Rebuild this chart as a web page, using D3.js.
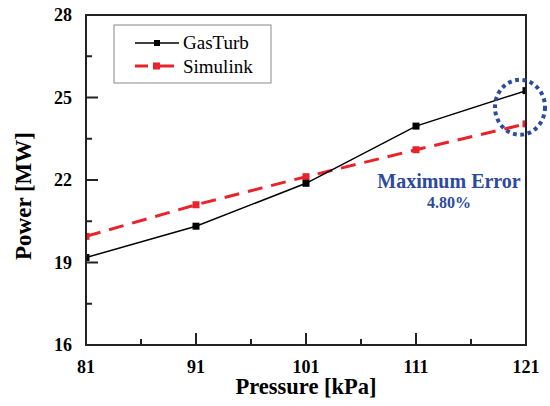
<!DOCTYPE html>
<html>
<head>
<meta charset="utf-8">
<script src="https://cdn.jsdelivr.net/npm/d3@7"></script>
<style>
  body { margin: 0; background: #fff; }
</style>
</head>
<body>
<div id="chart"></div>
<script>
var pressure = [81, 91, 101, 111, 121];
var gasTurb  = [19.18, 20.32, 21.88, 23.96, 25.25];
var simulink = [19.95, 21.10, 22.12, 23.10, 24.04];
var xTicks = [81, 91, 101, 111, 121];
var yTicks = [16, 19, 22, 25, 28];

var width = 550,
    height = 406,
    margin = {top: 15, right: 24, bottom: 61, left: 86};

var innerW = width - margin.left - margin.right,
    innerH = height - margin.top - margin.bottom;

var blue = "#2c4a9f",
    red = "#e8232b",
    serif = "Liberation Serif";

var svg = d3.select("#chart").append("svg")
    .attr("width", width)
    .attr("height", height);

var g = svg.append("g")
    .attr("transform", "translate(" + margin.left + "," + margin.top + ")");

var x = d3.scaleLinear().domain([81, 121]).range([0, innerW]);
var y = d3.scaleLinear().domain([16, 28]).range([innerH, 0]);

g.append("clipPath").attr("id", "plot-clip")
  .append("rect")
    .attr("width", innerW)
    .attr("height", innerH);

var plot = g.append("g").attr("clip-path", "url(#plot-clip)");

var line = d3.line()
    .x(function(d) { return x(d[0]); })
    .y(function(d) { return y(d[1]); });

var simData = pressure.map(function(p, i) { return [p, simulink[i]]; });
var gasData = pressure.map(function(p, i) { return [p, gasTurb[i]]; });

plot.append("path")
    .datum(simData)
    .attr("fill", "none")
    .attr("stroke", red)
    .attr("stroke-width", 3)
    .attr("stroke-dasharray", "15,9")
    .attr("d", line);

plot.selectAll(".sim-pt")
    .data(simData)
    .enter().append("rect")
    .attr("class", "sim-pt")
    .attr("x", function(d) { return x(d[0]) - 3.5; })
    .attr("y", function(d) { return y(d[1]) - 3.5; })
    .attr("width", 7)
    .attr("height", 7)
    .attr("fill", red);

plot.append("path")
    .datum(gasData)
    .attr("fill", "none")
    .attr("stroke", "#000")
    .attr("stroke-width", 1.5)
    .attr("d", line);

plot.selectAll(".gas-pt")
    .data(gasData)
    .enter().append("rect")
    .attr("class", "gas-pt")
    .attr("x", function(d) { return x(d[0]) - 3.5; })
    .attr("y", function(d) { return y(d[1]) - 3.5; })
    .attr("width", 7)
    .attr("height", 7)
    .attr("fill", "#000");

// frame: top and right have no ticks
g.append("rect")
    .attr("width", innerW)
    .attr("height", innerH)
    .attr("fill", "none")
    .attr("stroke", "#222")
    .attr("stroke-width", 2);

// inward ticks, minor ticks halfway between majors
var xMinor = d3.range(86, 121, 10);
var yMinor = d3.range(17.5, 28, 3);

g.selectAll(".xmaj")
    .data(xTicks.slice(1, -1))
    .enter().append("line")
    .attr("x1", function(d) { return x(d); })
    .attr("x2", function(d) { return x(d); })
    .attr("y1", innerH)
    .attr("y2", innerH - 12)
    .attr("stroke", "#222")
    .attr("stroke-width", 2);

g.selectAll(".xmin")
    .data(xMinor)
    .enter().append("line")
    .attr("x1", function(d) { return x(d); })
    .attr("x2", function(d) { return x(d); })
    .attr("y1", innerH)
    .attr("y2", innerH - 6)
    .attr("stroke", "#222")
    .attr("stroke-width", 2);

g.selectAll(".ymaj")
    .data(yTicks.slice(1, -1))
    .enter().append("line")
    .attr("x1", 0)
    .attr("x2", 12)
    .attr("y1", function(d) { return y(d); })
    .attr("y2", function(d) { return y(d); })
    .attr("stroke", "#222")
    .attr("stroke-width", 2);

g.selectAll(".ymin")
    .data(yMinor)
    .enter().append("line")
    .attr("x1", 0)
    .attr("x2", 6)
    .attr("y1", function(d) { return y(d); })
    .attr("y2", function(d) { return y(d); })
    .attr("stroke", "#222")
    .attr("stroke-width", 2);

g.selectAll(".xlab")
    .data(xTicks)
    .enter().append("text")
    .attr("x", function(d) { return x(d); })
    .attr("y", innerH + 28)
    .attr("text-anchor", "middle")
    .attr("font-family", serif)
    .attr("font-size", 18)
    .attr("font-weight", "bold")
    .text(function(d) { return d; });

g.selectAll(".ylab")
    .data(yTicks)
    .enter().append("text")
    .attr("x", -14)
    .attr("y", function(d) { return y(d); })
    .attr("dy", "0.35em")
    .attr("text-anchor", "end")
    .attr("font-family", serif)
    .attr("font-size", 18)
    .attr("font-weight", "bold")
    .text(function(d) { return d; });

svg.append("text")
    .attr("x", margin.left + innerW / 2)
    .attr("y", 394)
    .attr("text-anchor", "middle")
    .attr("font-family", serif)
    .attr("font-size", 22.5)
    .attr("font-weight", "bold")
    .text("Pressure [kPa]");

svg.append("text")
    .attr("transform", "translate(31,196) rotate(-90)")
    .attr("text-anchor", "middle")
    .attr("font-family", serif)
    .attr("font-size", 23)
    .attr("font-weight", "bold")
    .text("Power [MW]");

// legend
var legend = svg.append("g");

legend.append("rect")
    .attr("x", 114)
    .attr("y", 25)
    .attr("width", 157)
    .attr("height", 58)
    .attr("fill", "#fff")
    .attr("stroke", "#888")
    .attr("stroke-width", 1);

legend.append("line")
    .attr("x1", 135).attr("x2", 179)
    .attr("y1", 43).attr("y2", 43)
    .attr("stroke", "#000")
    .attr("stroke-width", 1.5);
legend.append("rect")
    .attr("x", 154).attr("y", 40)
    .attr("width", 6).attr("height", 6)
    .attr("fill", "#000");
legend.append("text")
    .attr("x", 183).attr("y", 48.5)
    .attr("font-family", serif)
    .attr("font-size", 19)
    .text("GasTurb");

legend.append("line")
    .attr("x1", 135).attr("x2", 148)
    .attr("y1", 66).attr("y2", 66)
    .attr("stroke", red)
    .attr("stroke-width", 3);
legend.append("line")
    .attr("x1", 160).attr("x2", 174)
    .attr("y1", 66).attr("y2", 66)
    .attr("stroke", red)
    .attr("stroke-width", 3);
legend.append("rect")
    .attr("x", 153).attr("y", 62.5)
    .attr("width", 7).attr("height", 7)
    .attr("fill", red);
legend.append("text")
    .attr("x", 183).attr("y", 72.5)
    .attr("font-family", serif)
    .attr("font-size", 19)
    .text("Simulink");

// highlight of the largest deviation at the last point
svg.append("ellipse")
    .attr("cx", margin.left + x(121) - 6)
    .attr("cy", margin.top + y((gasTurb[4] + simulink[4]) / 2))
    .attr("rx", 25)
    .attr("ry", 27.5)
    .attr("fill", "none")
    .attr("stroke", blue)
    .attr("stroke-width", 4)
    .attr("stroke-dasharray", "3.8,3.6");

svg.append("text")
    .attr("x", 449)
    .attr("y", 188)
    .attr("text-anchor", "middle")
    .attr("font-family", serif)
    .attr("font-size", 20)
    .attr("font-weight", "bold")
    .attr("fill", blue)
    .text("Maximum Error");

svg.append("text")
    .attr("x", 449)
    .attr("y", 208)
    .attr("text-anchor", "middle")
    .attr("font-family", serif)
    .attr("font-size", 16)
    .attr("font-weight", "bold")
    .attr("fill", blue)
    .text("4.80%");
</script>
</body>
</html>
